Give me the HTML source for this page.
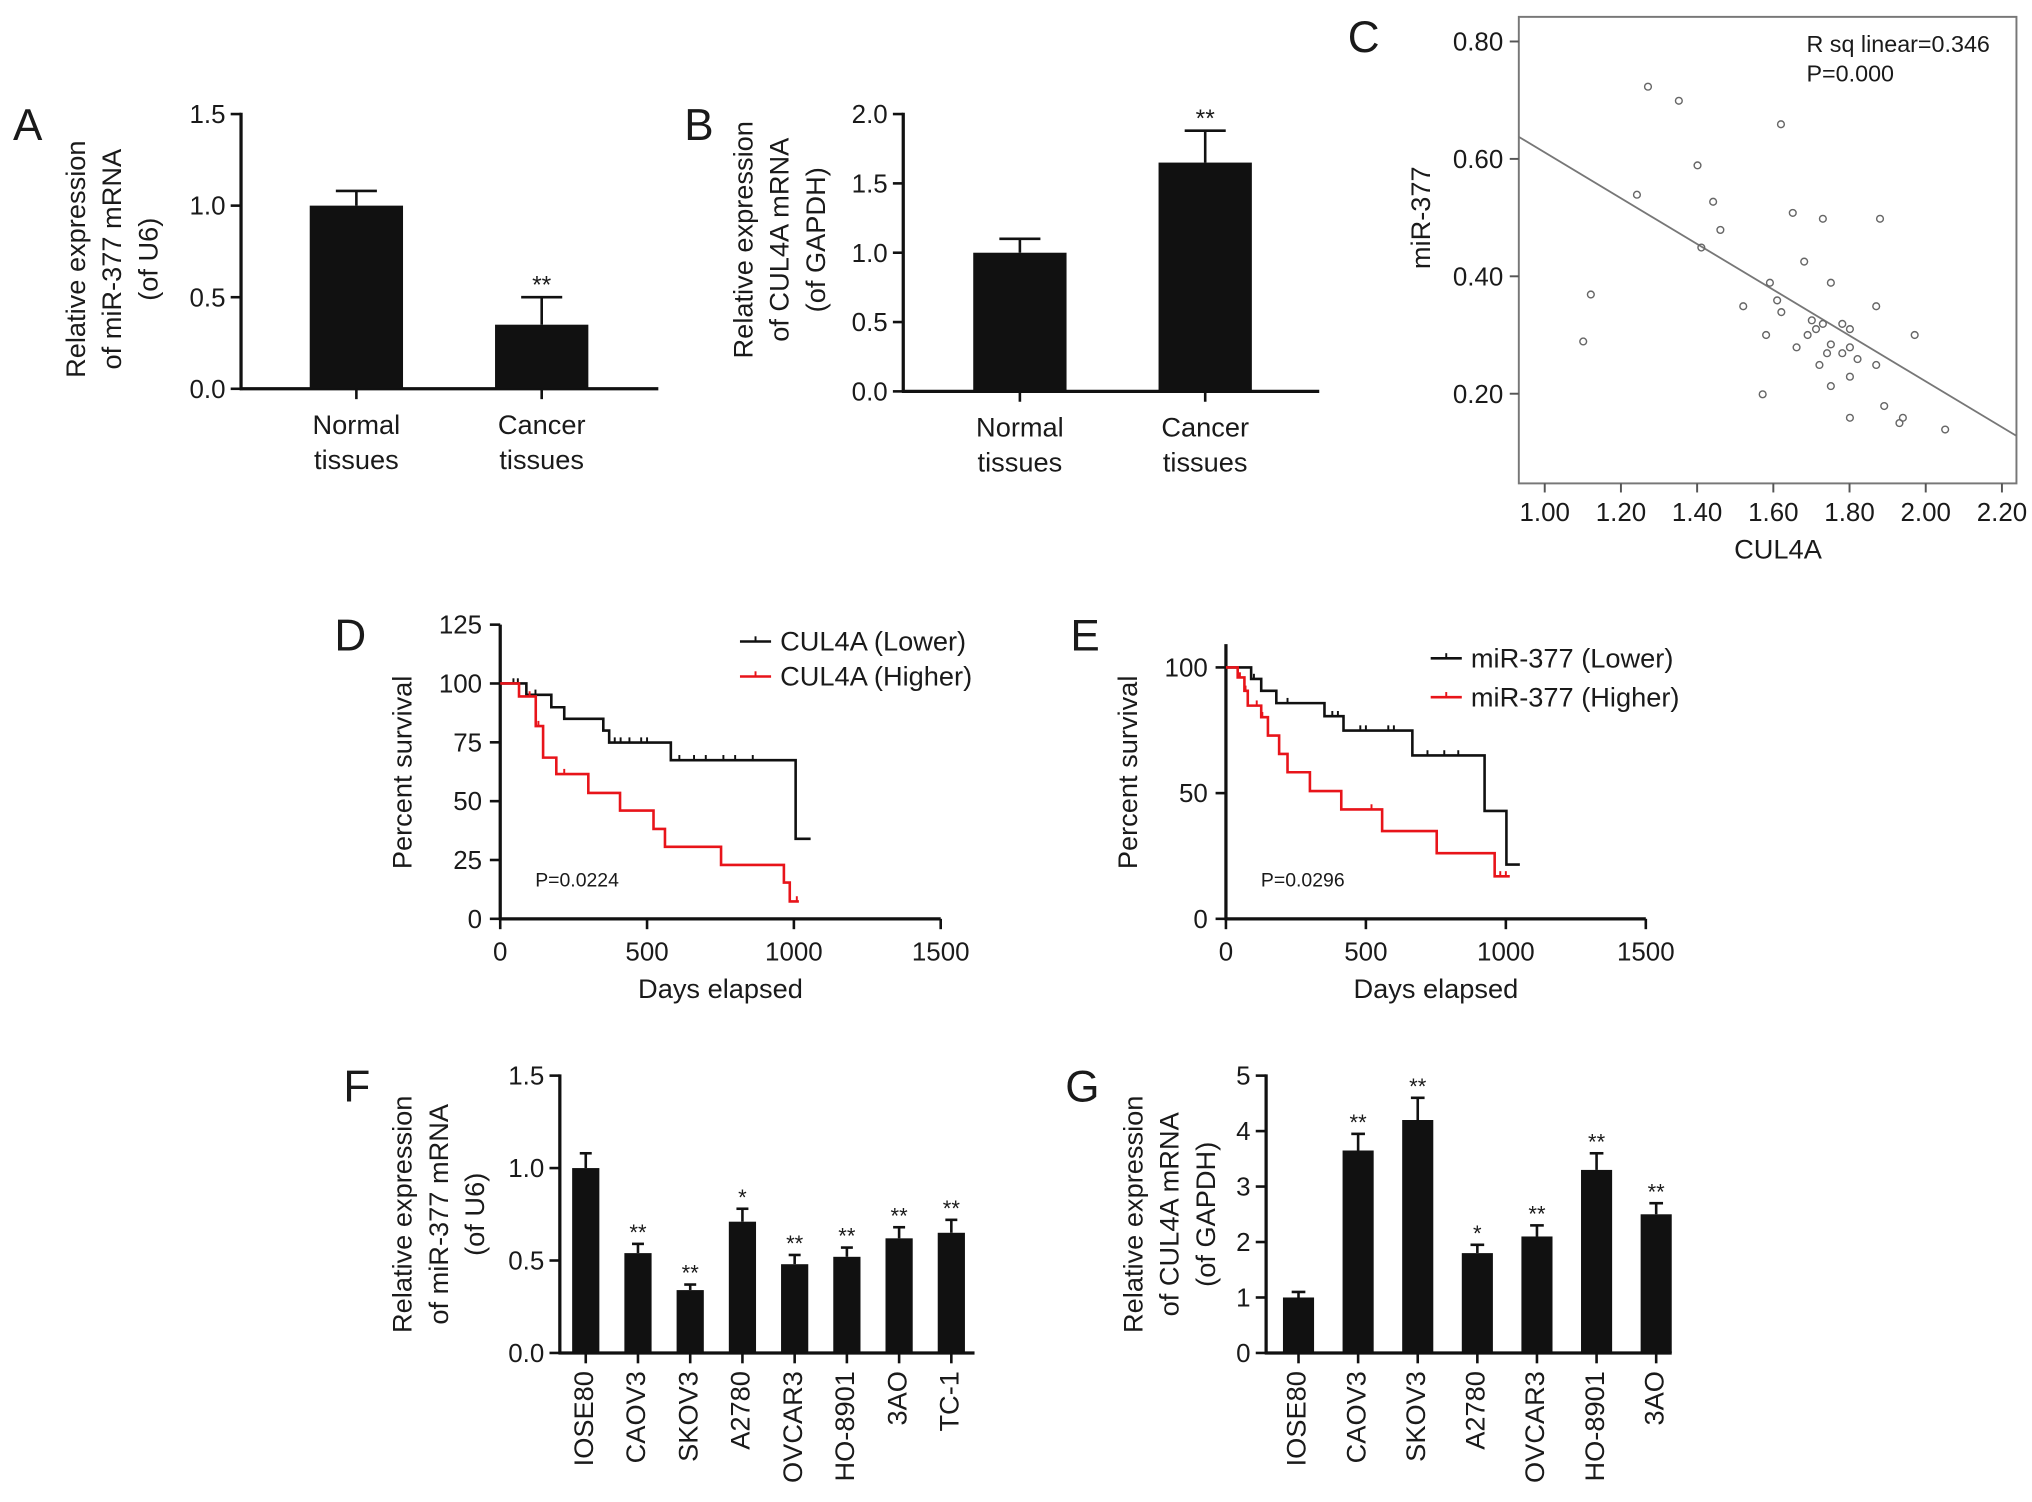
<!DOCTYPE html>
<html><head><meta charset="utf-8"><style>
html,body{margin:0;padding:0;background:#fff;}
svg{display:block;font-family:"Liberation Sans",Arial,sans-serif;}
</style></head><body>
<svg id="fig" width="2032" height="1502" viewBox="0 0 1568 1159" xmlns="http://www.w3.org/2000/svg"></svg>
<script>
// ---- Panel A data ----
const aCats = ["Normal|tissues", "Cancer|tissues"];
const aVals = [1.0, 0.35];
const aErrs = [0.08, 0.15];
const aStars = ["", "**"];
const aTicks = ["0.0", "0.5", "1.0", "1.5"];
// ---- Panel B data ----
const bCats = ["Normal|tissues", "Cancer|tissues"];
const bVals = [1.0, 1.65];
const bErrs = [0.1, 0.23];
const bStars = ["", "**"];
const bTicks = ["0.0", "0.5", "1.0", "1.5", "2.0"];
// ---- Panel C data ----
const cX = [1.271,1.352,1.620,1.401,1.242,1.442,1.651,1.730,1.880,1.461,1.411,1.681,1.591,1.751,1.121,1.521,1.610,1.621,1.870,1.701,1.730,1.712,1.781,1.801,1.690,1.581,1.971,1.101,1.661,1.751,1.801,1.741,1.781,1.821,1.721,1.870,1.801,1.751,1.572,1.891,1.801,1.940,1.931,2.051];
const cY = [0.723,0.699,0.659,0.589,0.539,0.527,0.508,0.498,0.498,0.479,0.449,0.425,0.389,0.389,0.369,0.349,0.359,0.339,0.349,0.325,0.319,0.310,0.319,0.310,0.300,0.300,0.300,0.289,0.279,0.284,0.279,0.269,0.269,0.259,0.249,0.249,0.229,0.213,0.199,0.179,0.159,0.159,0.150,0.139];
const cFit = [-0.39, 1.001]; // slope, intercept
const cXTicks = ["1.00","1.20","1.40","1.60","1.80","2.00","2.20"];
const cYTicks = ["0.20","0.40","0.60","0.80"];
// ---- Panel D data ----
const dLowDays = [0, 89, 174, 218, 351, 371, 581, 1006, 1057];
const dLowPct  = [100, 95.2, 89.9, 85, 80, 74.9, 67.4, 34, 34];
const dLowCens = [45, 60, 120, 390, 410, 440, 480, 500, 610, 660, 700, 760, 800, 860];
const dHighDays = [0, 64, 121, 146, 191, 300, 408, 522, 561, 752, 966, 986, 1017];
const dHighPct  = [100, 94.5, 81.9, 68.5, 61.5, 53.5, 46, 38.2, 30.6, 22.9, 15.4, 7.4, 7.4];
const dHighCens = [100, 130, 218, 1010];
const dYTicks = ["0","25","50","75","100","125"];
const dXTicks = ["0","500","1000","1500"];
// ---- Panel E data ----
const eLowDays = [0, 90, 126, 180, 352, 420, 666, 924, 1002, 1050];
const eLowPct  = [100, 95.4, 90.7, 85.8, 80.6, 74.9, 65, 42.9, 21.6, 21.6];
const eLowCens = [100, 220, 380, 400, 480, 500, 580, 600, 720, 780, 830];
const eHighDays = [0, 42, 66, 78, 126, 150, 190, 220, 300, 412, 558, 753, 960, 1014];
const eHighPct  = [100, 96, 90.7, 84.8, 80.2, 72.9, 65.6, 58.3, 50.8, 43.5, 34.9, 26.1, 16.9, 16.9];
const eHighCens = [50, 70, 110, 130, 520, 980, 1000];
const eYTicks = ["0","50","100"];
const eXTicks = ["0","500","1000","1500"];
// ---- Panel F data ----
const fCats = ["IOSE80","CAOV3","SKOV3","A2780","OVCAR3","HO-8901","3AO","TC-1"];
const fVals = [1.0, 0.54, 0.34, 0.71, 0.48, 0.52, 0.62, 0.65];
const fErrs = [0.08, 0.05, 0.03, 0.07, 0.05, 0.05, 0.06, 0.07];
const fStars = ["","**","**","*","**","**","**","**"];
const fTicks = ["0.0","0.5","1.0","1.5"];
// ---- Panel G data ----
const gCats = ["IOSE80","CAOV3","SKOV3","A2780","OVCAR3","HO-8901","3AO"];
const gVals = [1.0, 3.65, 4.2, 1.8, 2.1, 3.3, 2.5];
const gErrs = [0.1, 0.3, 0.4, 0.15, 0.2, 0.3, 0.2];
const gStars = ["","**","**","*","**","**","**"];
const gTicks = ["0","1","2","3","4","5"];

const svg = document.getElementById('fig');
const NS = 'http://www.w3.org/2000/svg';
function mk(tag, attrs, parent, text) {
  const e = document.createElementNS(NS, tag);
  for (const k in attrs) e.setAttribute(k, attrs[k]);
  if (text !== undefined) e.textContent = text;
  (parent || svg).appendChild(e);
  return e;
}
function grp(name) {
  const g = mk('g', {});
  
  
  return g;
}
function txt(parent, x, y, s, size, name, extra) {
  const a = {x: x, y: y, 'font-size': size, fill: '#1a1a1a', 'text-anchor': 'middle'};
  for (const k in (extra || {})) a[k] = extra[k];
  const t = mk('text', a, parent, s);
  
  
  return t;
}
function line(parent, x1, y1, x2, y2, w, c) {
  return mk('line', {x1: x1, y1: y1, x2: x2, y2: y2, stroke: c || '#111', 'stroke-width': w || 2}, parent);
}
function panelLetter(s, x, y) {
  const g = grp('panel-label-' + s.toLowerCase());
  txt(g, x, y, s, 34, 'panel-letter', {'text-anchor': 'start'});
}
function yTitle(parent, cx, cy, lines, gap, size) {
  const g = mk('g', {}, parent);
  
  
  lines.forEach((l, i) => {
    const x = cx + (i - (lines.length - 1) / 2) * gap;
    txt(g, x, cy, l, size || 21, 'y-axis-title-line', {transform: 'rotate(-90 ' + x + ' ' + cy + ')', 'dominant-baseline': 'middle'});
  });
}

function barChart(o) {
  const g = grp(o.name);
  const yS = v => o.y0 - (v / o.ymax) * (o.y0 - o.ytop);
  o.ticks.forEach((t, i) => {
    const v = o.ymax * i / (o.ticks.length - 1);
    const y = yS(v);
    line(g, o.x0 - 8, y, o.x0, y, 2);
    txt(g, o.x0 - 12, y + 7, t, o.tickSize || 20, 'y-tick-label', {'text-anchor': 'end'});
  });
  line(g, o.x0, o.ytop - 1, o.x0, o.y0 + 1, 2.5);
  line(g, o.x0 - 1, o.y0, o.x1, o.y0, 2.5);
  o.vals.forEach((v, i) => {
    const cx = o.c0 + i * o.step;
    const yt = yS(v), ye = yS(v + o.errs[i]);
    line(g, cx, yt, cx, ye, 2);
    line(g, cx - o.bw * 0.22, ye, cx + o.bw * 0.22, ye, 2);
    const r = mk('rect', {x: cx - o.bw / 2, y: yt, width: o.bw, height: o.y0 - yt, fill: '#111'}, g);
    
    
    line(g, cx, o.y0, cx, o.y0 + 8, 2);
    if (o.stars[i]) txt(g, cx, ye - 3, o.stars[i], o.starSize || 19, 'significance-stars');
    if (o.rotate) {
      const ly = o.y0 + 14;
      txt(g, cx, ly, o.cats[i], o.catSize || 21, 'x-tick-label', {'text-anchor': 'end', 'dominant-baseline': 'middle', transform: 'rotate(-90 ' + cx + ' ' + ly + ')'});
    } else {
      o.cats[i].split('|').forEach((p, k) => txt(g, cx, o.y0 + 35 + k * 27, p, 21, 'x-tick-label'));
    }
  });
  yTitle(g, o.tx, o.ty, o.title, 28, 21);
}

panelLetter('A', 10, 108);
barChart({name: 'panel-a-bar-chart', cats: aCats, vals: aVals, errs: aErrs, stars: aStars, ticks: aTicks,
  ymax: 1.5, x0: 186, x1: 508, y0: 300, ytop: 88, c0: 275, step: 143, bw: 72, tx: 88, ty: 200,
  title: ['Relative expression', 'of miR-377 mRNA', '(of U6)']});
panelLetter('B', 528, 108);
barChart({name: 'panel-b-bar-chart', cats: bCats, vals: bVals, errs: bErrs, stars: bStars, ticks: bTicks,
  ymax: 2.0, x0: 697, x1: 1018, y0: 302, ytop: 88, c0: 787, step: 143, bw: 72, tx: 603, ty: 185,
  title: ['Relative expression', 'of CUL4A mRNA', '(of GAPDH)']});
panelLetter('F', 265, 850);
barChart({name: 'panel-f-bar-chart', cats: fCats, vals: fVals, errs: fErrs, stars: fStars, ticks: fTicks,
  ymax: 1.5, x0: 432, x1: 752, y0: 1044, ytop: 830, c0: 452, step: 40.3, bw: 21, tx: 340, ty: 937, rotate: true, starSize: 17,
  title: ['Relative expression', 'of miR-377 mRNA', '(of U6)']});
panelLetter('G', 822, 850);
barChart({name: 'panel-g-bar-chart', cats: gCats, vals: gVals, errs: gErrs, stars: gStars, ticks: gTicks,
  ymax: 5, x0: 977, x1: 1290, y0: 1044, ytop: 830, c0: 1002, step: 46, bw: 24, tx: 904, ty: 937, rotate: true, starSize: 17,
  title: ['Relative expression', 'of CUL4A mRNA', '(of GAPDH)']});

panelLetter('C', 1040, 40);
(function () {
  const g = grp('panel-c-scatter');
  const L = 1172, R = 1556, T = 13, B = 373;
  const xS = v => 1192 + (v - 1.0) / 0.2 * 58.8;
  const yS = v => 32 + (0.8 - v) / 0.2 * 90.6;
  mk('rect', {x: L, y: T, width: R - L, height: B - T, fill: 'none', stroke: '#777', 'stroke-width': 1.5}, g);
  cYTicks.forEach(t => {
    const y = yS(parseFloat(t));
    line(g, L - 7, y, L, y, 1.5, '#555');
    txt(g, L - 12, y + 7, t, 20, 'y-tick-label', {'text-anchor': 'end'});
  });
  cXTicks.forEach(t => {
    const x = xS(parseFloat(t));
    line(g, x, B, x, B + 7, 1.5, '#555');
    txt(g, x, B + 29, t, 20, 'x-tick-label');
  });
  const x1 = 1.0 + (L - 1192) / 294, x2 = 1.0 + (R - 1192) / 294;
  const fit = mk('line', {x1: xS(x1), y1: yS(cFit[0] * x1 + cFit[1]), x2: xS(x2), y2: yS(cFit[0] * x2 + cFit[1]), stroke: '#777', 'stroke-width': 1.4}, g);
  
  
  cX.forEach((v, i) => {
    const c = mk('circle', {cx: xS(v), cy: yS(cY[i]), r: 2.6, fill: 'none', stroke: '#666', 'stroke-width': 1.1}, g);
    
    
  });
  txt(g, 1394, 40, 'R sq linear=0.346', 18, 'r-squared-annotation', {'text-anchor': 'start'});
  txt(g, 1394, 63, 'P=0.000', 18, 'p-value-annotation', {'text-anchor': 'start'});
  txt(g, 1372, 431, 'CUL4A', 21, 'x-axis-title');
  txt(g, 1098, 168, 'miR-377', 21, 'y-axis-title', {transform: 'rotate(-90 1098 168)', 'dominant-baseline': 'middle'});
})();

function survival(o) {
  const g = grp(o.name);
  const xS = d => o.x0 + d * o.pxPerDay;
  const yS = p => o.y0 - p * o.pxPerPct;
  line(g, o.x0, o.ytop, o.x0, o.y0 + 1, 2.5);
  line(g, o.x0 - 1, o.y0, xS(1500), o.y0, 2.5);
  o.yt.forEach(t => {
    const y = yS(+t);
    line(g, o.x0 - 8, y, o.x0, y, 2);
    txt(g, o.x0 - 14, y + 7, t, 20, 'y-tick-label', {'text-anchor': 'end'});
  });
  o.xt.forEach(t => {
    const x = xS(+t);
    line(g, x, o.y0, x, o.y0 + 8, 2);
    txt(g, x, o.y0 + 32, t, 20, 'x-tick-label');
  });
  function curve(days, pct, cens, color, nm) {
    let d = 'M' + xS(days[0]) + ' ' + yS(pct[0]);
    for (let i = 1; i < days.length; i++) d += ' H' + xS(days[i]) + ' V' + yS(pct[i]);
    const p = mk('path', {d: d, fill: 'none', stroke: color, 'stroke-width': 2}, g);
    
    
    cens.forEach(c => {
      let v = pct[0];
      for (let i = 0; i < days.length; i++) if (days[i] <= c) v = pct[i];
      line(g, xS(c), yS(v), xS(c), yS(v) - 4, 1.5, color);
    });
  }
  curve(o.lowD, o.lowP, o.lowC, '#111', 'survival-curve-lower');
  curve(o.highD, o.highP, o.highC, '#e8141a', 'survival-curve-higher');
  o.leg.forEach((l, i) => {
    const lg = mk('g', {}, g);
    
    
    const y = o.legY + i * o.legGap;
    const col = i ? '#e8141a' : '#111';
    line(lg, o.legX, y, o.legX + 24, y, 2, col);
    line(lg, o.legX + 12, y, o.legX + 12, y - 4, 1.5, col);
    txt(lg, o.legX + 31, y + 7, l, 21, 'legend-label', {'text-anchor': 'start'});
  });
  txt(g, o.pX, o.y0 - 25, o.pText, 15, 'p-value-annotation', {'text-anchor': 'start'});
  txt(g, (o.x0 + xS(1500)) / 2, o.y0 + 61, 'Days elapsed', 21, 'x-axis-title');
  const tx = o.x0 - 74, ty = o.y0 - 113;
  txt(g, tx, ty, 'Percent survival', 21, 'y-axis-title', {transform: 'rotate(-90 ' + tx + ' ' + ty + ')', 'dominant-baseline': 'middle'});
}
panelLetter('D', 258, 502);
survival({name: 'panel-d-survival', x0: 386, y0: 709, ytop: 482, pxPerDay: 0.2266, pxPerPct: 1.816,
  yt: dYTicks, xt: dXTicks, lowD: dLowDays, lowP: dLowPct, lowC: dLowCens, highD: dHighDays, highP: dHighPct, highC: dHighCens,
  leg: ['CUL4A (Lower)', 'CUL4A (Higher)'], legX: 571, legY: 495, legGap: 27, pX: 413, pText: 'P=0.0224'});
panelLetter('E', 826, 502);
survival({name: 'panel-e-survival', x0: 946, y0: 709, ytop: 497, pxPerDay: 0.216, pxPerPct: 1.94,
  yt: eYTicks, xt: eXTicks, lowD: eLowDays, lowP: eLowPct, lowC: eLowCens, highD: eHighDays, highP: eHighPct, highC: eHighCens,
  leg: ['miR-377 (Lower)', 'miR-377 (Higher)'], legX: 1104, legY: 508, legGap: 30, pX: 973, pText: 'P=0.0296'});
</script>
</body></html>
